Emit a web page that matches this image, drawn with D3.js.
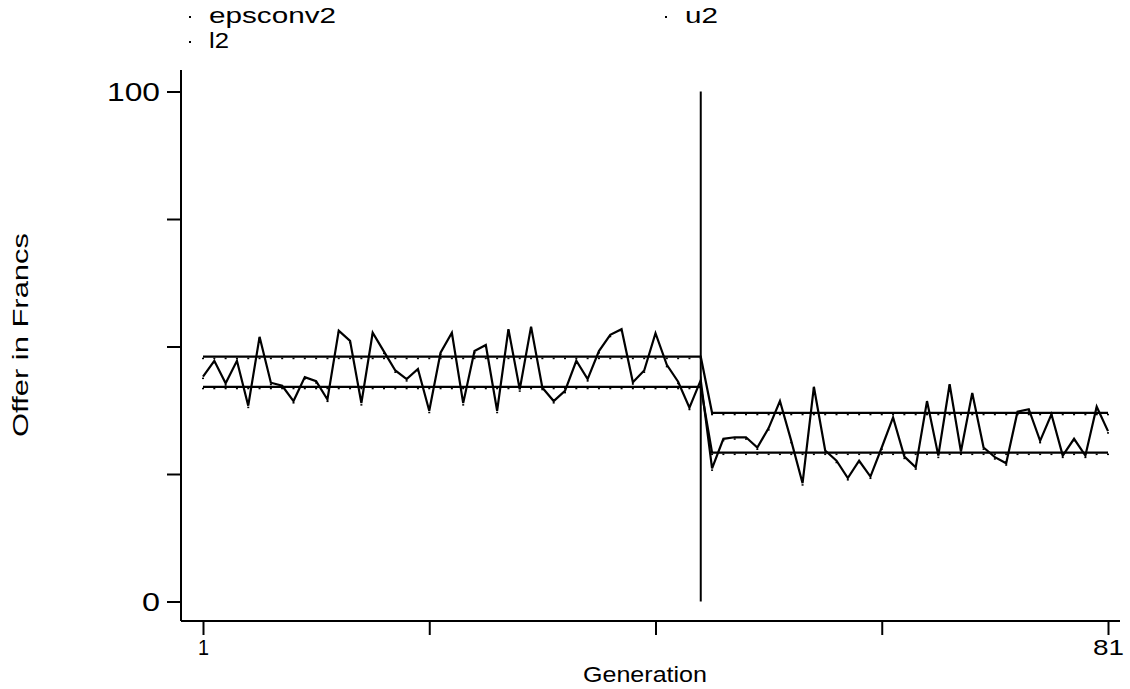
<!DOCTYPE html>
<html>
<head>
<meta charset="utf-8">
<script src="https://cdn.jsdelivr.net/npm/d3@7/dist/d3.min.js"></script>
<style>
  body { margin: 0; background: #fff; }
  svg { display: block; font-family: 'Liberation Sans', Arial, sans-serif; }
</style>
</head>
<body>
<div id="chart"></div>
<script>
const generations = d3.range(1, 82);
const epsconv2 = [
  44.1, 47.2, 42.8, 47.2, 38.4, 51.9, 42.9, 42.3, 39.3, 44.0,
  43.2, 39.6, 53.1, 51.1, 38.9, 52.7, 49.0, 45.3, 43.6, 45.6,
  37.4, 48.8, 52.7, 38.9, 49.1, 50.3, 37.4, 53.4, 41.6, 53.9,
  41.9, 39.3, 41.3, 47.2, 43.6, 49.1, 52.3, 53.4, 43.0, 45.3,
  52.6, 46.4, 43.1, 38.0, 43.4, 26.1, 31.9, 32.2, 32.2, 30.2,
  34.0, 39.3, 31.5, 23.2, 42.1, 29.6, 27.6, 24.2, 27.6, 24.5,
  30.2, 36.1, 28.4, 26.3, 39.3, 28.6, 42.6, 29.4, 40.9, 30.2,
  28.3, 27.1, 37.2, 37.7, 31.5, 36.7, 28.6, 31.9, 28.6, 38.2,
  33.4
];
// limits change after the break at generation 45
const u2 = generations.map(g => g <= 45 ? 48.0 : 37.0);
const l2 = generations.map(g => g <= 45 ? 42.1 : 29.2);
const breakGen = 45;
const breakRange = [0, 100];

const yTicks = [0, 25, 50, 75, 100];
const yLabels = [0, 100];
const xTicks = [1, 21, 41, 61, 81];
const xLabels = [1, 81];

const width = 1130;
const height = 689;

const svg = d3.select('#chart').append('svg')
  .attr('width', width)
  .attr('height', height);

const x = d3.scaleLinear().domain([1, 81]).range([203, 1108]);
const y = d3.scaleLinear().domain([0, 100]).range([601.5, 91.5]);

// axes
const yAxis = svg.append('g')
  .attr('transform', 'translate(181,0)')
  .call(d3.axisLeft(y).tickValues(yTicks).tickSize(14).tickSizeOuter(0)
    .tickFormat(d => yLabels.includes(d) ? d : ''));
yAxis.select('.domain').attr('d', 'M0,70V621');
yAxis.selectAll('text').attr('font-size', 25).attr('font-family', null).attr('dy', '0.36em').attr('x', -21)
  .attr('textLength', d => d === 100 ? 53 : d === 0 ? 18 : null)
  .attr('lengthAdjust', 'spacingAndGlyphs');

const xAxis = svg.append('g')
  .attr('transform', 'translate(0,621)')
  .call(d3.axisBottom(x).tickValues(xTicks).tickSize(14).tickSizeOuter(0)
    .tickFormat(d => xLabels.includes(d) ? d : ''));
xAxis.select('.domain').attr('d', 'M181,0H1120');
xAxis.selectAll('text').attr('font-size', 22).attr('font-family', null).attr('y', 18).attr('dy', '0.71em')
  .attr('textLength', d => d === 81 ? 31 : d === 1 ? 11 : null)
  .attr('lengthAdjust', 'spacingAndGlyphs');

svg.selectAll('.domain, .tick line').attr('stroke', '#000').attr('stroke-width', 2);

// break line
svg.append('line')
  .attr('x1', x(breakGen)).attr('x2', x(breakGen))
  .attr('y1', y(breakRange[0])).attr('y2', y(breakRange[1]))
  .attr('stroke', '#000').attr('stroke-width', 2);

const line = d3.line().x((d, i) => x(generations[i])).y(d => y(d));

[u2, l2, epsconv2].forEach(series => {
  svg.append('path')
    .attr('d', line(series))
    .attr('fill', 'none')
    .attr('stroke', '#000')
    .attr('stroke-width', 2.2)
    .attr('stroke-linejoin', 'miter');
  svg.append('g').selectAll('rect')
    .data(series)
    .enter().append('rect')
    .attr('x', (d, i) => x(generations[i]) - 1)
    .attr('y', d => y(d) + 1)
    .attr('width', 2)
    .attr('height', 1.5)
    .attr('fill', '#000');
});

// axis titles
svg.append('text')
  .text('Generation')
  .attr('x', 645)
  .attr('y', 682)
  .attr('text-anchor', 'middle')
  .attr('font-size', 22)
  .attr('textLength', 124)
  .attr('lengthAdjust', 'spacingAndGlyphs');

svg.append('g')
  .attr('transform', 'translate(28,335)')
  .append('text')
  .text('Offer in Francs')
  .attr('text-anchor', 'middle')
  .attr('transform', 'rotate(-90)')
  .attr('font-size', 22)
  .attr('textLength', 204)
  .attr('lengthAdjust', 'spacingAndGlyphs');

// legend
const legend = [
  {name: 'epsconv2', lx: 190, ly: 17, w: 127},
  {name: 'u2', lx: 666, ly: 17, w: 33},
  {name: 'l2', lx: 190, ly: 42, w: 20}
];
legend.forEach(item => {
  svg.append('rect')
    .attr('x', item.lx - 1).attr('y', item.ly - 1)
    .attr('width', 2).attr('height', 2)
    .attr('fill', '#000');
  svg.append('text')
    .text(item.name)
    .attr('x', item.lx + 19)
    .attr('y', item.ly + 6)
    .attr('font-size', 22)
    .attr('textLength', item.w)
    .attr('lengthAdjust', 'spacingAndGlyphs');
});
</script>
</body>
</html>
